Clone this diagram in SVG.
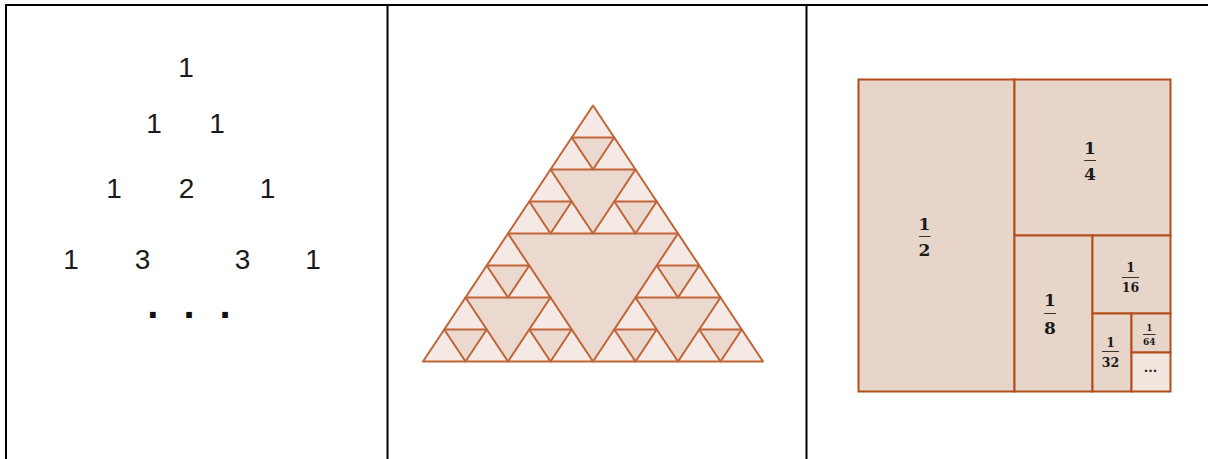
<svg xmlns="http://www.w3.org/2000/svg" width="1208" height="459" viewBox="0 0 1208 459">
<style>
.grid{stroke:#000;stroke-width:2;fill:none}
.num{font-family:"Liberation Sans",Arial,sans-serif;font-size:28px;fill:#1a1a1a;text-anchor:middle}
.dot{font-family:"Liberation Sans",Arial,sans-serif;font-size:40px;font-weight:bold;fill:#111;text-anchor:middle}
.lt{fill:#f4e9e4;stroke:#bf6537;stroke-width:2;stroke-linejoin:round}
.dk{fill:#ebd9cf;stroke:#bf6537;stroke-width:2;stroke-linejoin:round}
.sq{fill:#e8d5c9;stroke:#b24f1c;stroke-width:2}
.sql{fill:#f2e5dd;stroke:#b24f1c;stroke-width:2}
.fr{font-family:"DejaVu Serif","Liberation Serif",serif;font-weight:bold;fill:#1a1a1a;text-anchor:middle}
.bar{stroke:#333;stroke-width:1}
</style>
<rect width="1208" height="459" fill="#fff"/>
<g id="table">
<line class="grid" x1="5" y1="5" x2="1208" y2="5"/>
<line class="grid" x1="6" y1="4" x2="6" y2="459"/>
<line class="grid" x1="387.5" y1="4" x2="387.5" y2="459"/>
<line class="grid" x1="806.5" y1="4" x2="806.5" y2="459"/>
</g>
<g id="pascal">
<text class="num" x="186" y="77">1</text>
<text class="num" x="154" y="133">1</text>
<text class="num" x="217" y="133">1</text>
<text class="num" x="114" y="198">1</text>
<text class="num" x="186.5" y="198">2</text>
<text class="num" x="267.5" y="198">1</text>
<text class="num" x="71" y="269">1</text>
<text class="num" x="142.5" y="269">3</text>
<text class="num" x="242.5" y="269">3</text>
<text class="num" x="313" y="269">1</text>
<text class="dot" x="152.7" y="317.5">.</text>
<text class="dot" x="189" y="317.5">.</text>
<text class="dot" x="225" y="317.5">.</text>
</g>
<g id="sierpinski">
<polygon class="lt" points="593,105.5 423,361.5 763,361.5"/>
<polygon class="dk" points="508,233.5 678,233.5 593,361.5"/>
<polygon class="dk" points="550.5,169.5 635.5,169.5 593,233.5"/>
<polygon class="dk" points="465.5,297.5 550.5,297.5 508,361.5"/>
<polygon class="dk" points="635.5,297.5 720.5,297.5 678,361.5"/>
<polygon class="dk" points="571.75,137.5 614.25,137.5 593,169.5"/>
<polygon class="dk" points="529.25,201.5 571.75,201.5 550.5,233.5"/>
<polygon class="dk" points="614.25,201.5 656.75,201.5 635.5,233.5"/>
<polygon class="dk" points="486.75,265.5 529.25,265.5 508,297.5"/>
<polygon class="dk" points="444.25,329.5 486.75,329.5 465.5,361.5"/>
<polygon class="dk" points="529.25,329.5 571.75,329.5 550.5,361.5"/>
<polygon class="dk" points="656.75,265.5 699.25,265.5 678,297.5"/>
<polygon class="dk" points="614.25,329.5 656.75,329.5 635.5,361.5"/>
<polygon class="dk" points="699.25,329.5 741.75,329.5 720.5,361.5"/>
</g>
<g id="square">
<rect class="sq" x="858.5" y="79.5" width="156" height="312"/>
<rect class="sq" x="1014.5" y="79.5" width="156" height="156"/>
<rect class="sq" x="1014.5" y="235.5" width="78" height="156"/>
<rect class="sq" x="1092.5" y="235.5" width="78" height="78"/>
<rect class="sq" x="1092.5" y="313.5" width="39" height="78"/>
<rect class="sq" x="1131.5" y="313.5" width="39" height="39"/>
<rect class="sql" x="1131.5" y="352.5" width="39" height="39"/>
</g>
<g id="labels">
<text class="fr" x="924.5" y="229.5" font-size="17">1</text>
<line class="bar" x1="919" y1="236.5" x2="930.5" y2="236.5"/>
<text class="fr" x="924.5" y="255.5" font-size="17">2</text>
<text class="fr" x="1090" y="153.5" font-size="17">1</text>
<line class="bar" x1="1084" y1="160.5" x2="1096" y2="160.5"/>
<text class="fr" x="1090" y="180" font-size="17">4</text>
<text class="fr" x="1050" y="306" font-size="17">1</text>
<line class="bar" x1="1044" y1="313.5" x2="1056" y2="313.5"/>
<text class="fr" x="1050" y="333.5" font-size="17">8</text>
<text class="fr" x="1130.5" y="271.5" font-size="12.5">1</text>
<line class="bar" x1="1122" y1="277.5" x2="1139" y2="277.5"/>
<text class="fr" x="1130.5" y="291.5" font-size="12.5">16</text>
<text class="fr" x="1110.5" y="346.5" font-size="12.5">1</text>
<line class="bar" x1="1102" y1="351.5" x2="1119" y2="351.5"/>
<text class="fr" x="1110.5" y="366.5" font-size="12.5">32</text>
<text class="fr" x="1149.3" y="331" font-size="9">1</text>
<line class="bar" x1="1143" y1="334.5" x2="1155.5" y2="334.5"/>
<text class="fr" x="1149.3" y="344.5" font-size="9">64</text>
<text class="fr" x="1150.5" y="372" font-size="13">...</text>
</g>
</svg>
